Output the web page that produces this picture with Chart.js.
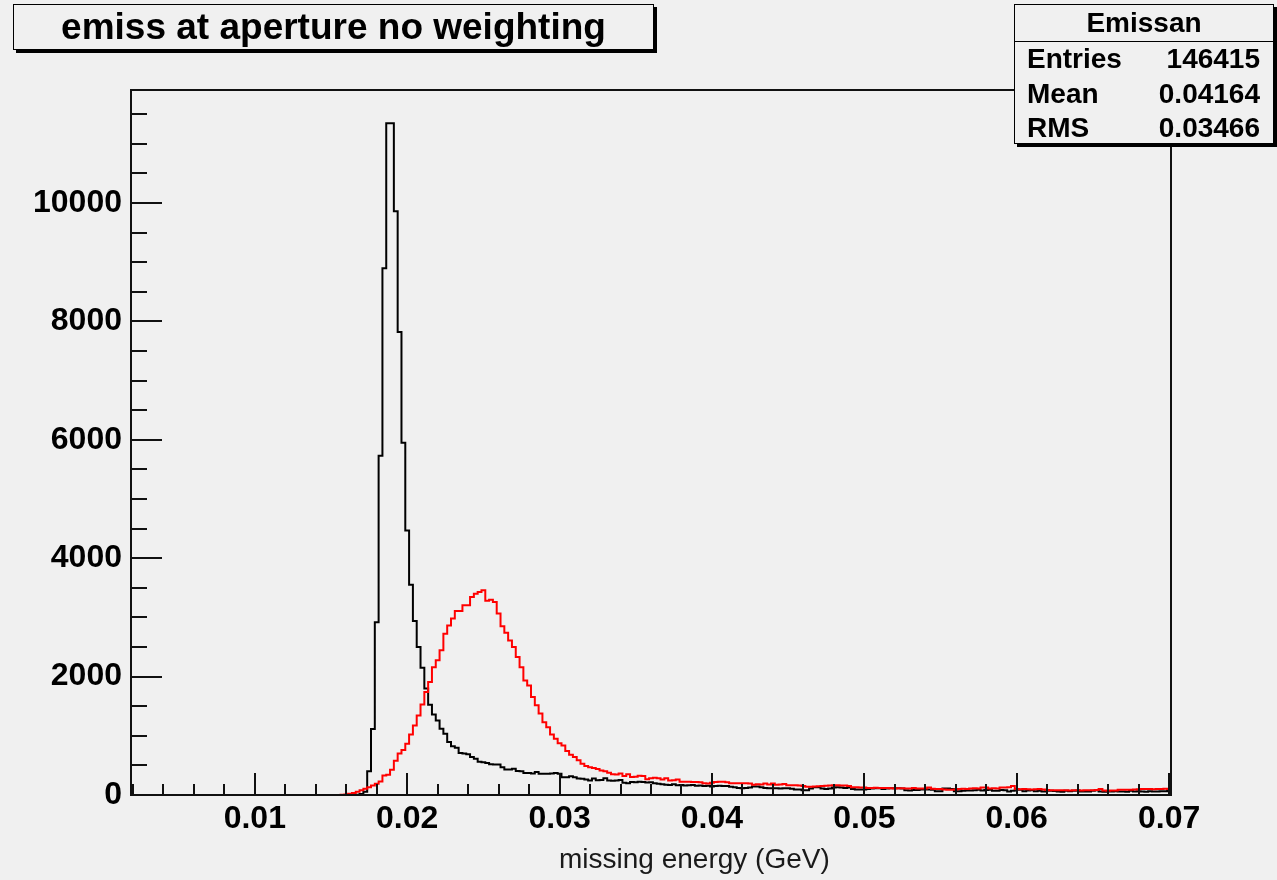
<!DOCTYPE html>
<html>
<head>
<meta charset="utf-8">
<script src="https://cdn.jsdelivr.net/npm/chart.js@4.4.1/dist/chart.umd.min.js"></script>
<style>
  html, body { margin: 0; padding: 0; background: #f0f0f0; }
  body { width: 1277px; height: 880px; position: relative; overflow: hidden; font-family: "Liberation Sans", Arial, sans-serif; }
  #plot { position: absolute; left: 0; top: 0; }
  .box { position: absolute; background: #f0f0f0; border: 1px solid #000; box-shadow: 3px 3px 0 #000; box-sizing: border-box; }
  #title { left: 13px; top: 4px; width: 641px; height: 46px; font-weight: bold; font-size: 37px; line-height: 44px; text-align: center; }
  #stats { left: 1014px; top: 4px; width: 260px; height: 140px; font-weight: bold; font-size: 28px; overflow: hidden; }
  #stats .head { height: 36px; line-height: 36px; text-align: center; border-bottom: 1px solid #000; }
  #stats .row { display: flex; justify-content: space-between; height: 34.5px; line-height: 34px; padding: 0 13px 0 12px; }
  #xtitle { position: absolute; left: 559px; top: 845px; font-size: 28px; line-height: 28px; color: #1a1a1a; white-space: nowrap; }
</style>
</head>
<body>
<canvas id="plot" width="1277" height="880"></canvas>
<div id="title" class="box">emiss at aperture no weighting</div>
<div id="stats" class="box">
  <div class="head">Emissan</div>
  <div class="row"><span>Entries</span><span>146415</span></div>
  <div class="row"><span>Mean</span><span>0.04164</span></div>
  <div class="row"><span>RMS</span><span>0.03466</span></div>
</div>
<div id="xtitle">missing energy (GeV)</div>
<script>
// histogram binning (low edge of first bin, bin width)
const BIN_LO = 0.001875;
const BIN_W = 0.00025;
const X_MIN = 0.001875;
const X_MAX = 0.070125;
const Y_MAX = 11910;

const X_TICKS = [0.01, 0.02, 0.03, 0.04, 0.05, 0.06, 0.07];
const X_TICK_LABELS = ['0.01', '0.02', '0.03', '0.04', '0.05', '0.06', '0.07'];
const Y_TICKS = [0, 2000, 4000, 6000, 8000, 10000];
const Y_TICK_LABELS = ['0', '2000', '4000', '6000', '8000', '10000'];

// black histogram, counts per bin
const countsBlack = [
  0, 0, 0, 0, 0, 0, 0, 0, 0, 0,
  0, 0, 0, 0, 0, 0, 0, 0, 0, 0,
  0, 0, 0, 0, 0, 0, 0, 0, 0, 0,
  0, 0, 0, 0, 0, 0, 0, 0, 0, 0,
  0, 0, 0, 0, 0, 0, 0, 0, 0, 0,
  0, 0, 0, 0, 0, 0, 0, 0, 2, 5,
  15, 55, 400, 1115, 2920, 5730, 8900, 11350, 11350, 9860,
  7820, 5950, 4470, 3550, 2940, 2500, 2150, 1800, 1525, 1360,
  1260, 1120, 1035, 895, 825, 800, 710, 700, 690, 640,
  612, 560, 555, 540, 520, 515, 515, 470, 430, 430,
  445, 405, 400, 370, 370, 365, 390, 360, 358, 360,
  365, 370, 360, 300, 300, 315, 300, 280, 275, 260,
  245, 280, 250, 255, 285, 245, 240, 245, 255, 205,
  200, 220, 215, 225, 220, 210, 215, 200, 190, 180,
  175, 170, 180, 165, 170, 160, 165, 170, 155, 160,
  150, 155, 145, 150, 155, 150, 150, 140, 130, 120,
  115, 118, 125, 145, 145, 130, 120, 115, 115, 115,
  110, 115, 112, 105, 95, 95, 80, 80, 110, 130,
  130, 110, 100, 110, 125, 130, 125, 120, 125, 100,
  95, 93, 93, 100, 110, 115, 115, 100, 110, 115,
  112, 113, 110, 80, 78, 85, 85, 95, 93, 92,
  90, 65, 65, 110, 110, 100, 65, 65, 70, 76,
  76, 80, 90, 75, 85, 90, 70, 72, 85, 80,
  60, 70, 88, 90, 65, 75, 80, 65, 70, 60,
  75, 72, 68, 60, 55, 70, 62, 70, 75, 60,
  58, 60, 70, 80, 60, 55, 65, 60, 62, 60,
  60, 55, 70, 60, 62, 60, 55, 62, 58, 60,
  62, 65, 70
];

// red histogram, counts per bin
const countsRed = [
  0, 0, 0, 0, 0, 0, 0, 0, 0, 0,
  0, 0, 0, 0, 0, 0, 0, 0, 0, 0,
  0, 0, 0, 0, 0, 0, 0, 0, 0, 0,
  0, 0, 0, 0, 0, 0, 0, 0, 0, 0,
  0, 0, 0, 0, 0, 0, 0, 0, 0, 0,
  0, 0, 0, 0, 0, 3, 8, 20, 35, 55,
  80, 105, 130, 160, 190, 230, 330, 340, 425, 580,
  700, 760, 865, 1020, 1175, 1345, 1530, 1740, 1910, 2160,
  2275, 2445, 2725, 2865, 2980, 3110, 3110, 3205, 3205, 3345,
  3400, 3430, 3460, 3280, 3300, 3260, 3065, 2850, 2740, 2610,
  2500, 2330, 2160, 1935, 1850, 1655, 1515, 1375, 1230, 1145,
  1020, 950, 875, 835, 745, 680, 640, 585, 530, 490,
  470, 455, 440, 415, 400, 375, 350, 345, 365, 320,
  350, 305, 310, 325, 320, 265, 285, 290, 285, 260,
  285, 245, 250, 260, 225, 225, 222, 218, 220, 215,
  200, 195, 205, 220, 225, 225, 215, 200, 200, 198,
  200, 198, 195, 175, 180, 178, 195, 178, 195, 172,
  178, 185, 165, 165, 163, 162, 150, 140, 140, 142,
  148, 150, 155, 160, 165, 165, 162, 160, 150, 132,
  130, 128, 125, 120, 120, 122, 120, 118, 118, 112,
  110, 112, 112, 110, 108, 120, 108, 110, 108, 125,
  105, 100, 100, 95, 90, 90, 92, 100, 104, 100,
  110, 112, 110, 125, 128, 110, 112, 108, 125, 128,
  130, 150, 100, 98, 100, 96, 95, 98, 100, 95,
  85, 80, 82, 80, 82, 80, 78, 82, 80, 78,
  80, 82, 80, 85, 100, 75, 72, 75, 76, 88,
  90, 88, 90, 95, 98, 100, 102, 100, 98, 100,
  102, 104, 100
];

// one point per bin low edge, plus the upper edge of the last bin
function toSteps(counts) {
  const pts = counts.map((c, i) => ({ x: BIN_LO + i * BIN_W, y: c }));
  pts.push({ x: BIN_LO + counts.length * BIN_W, y: counts[counts.length - 1] });
  return pts;
}

// ROOT style frame with ticks pointing inwards
const rootFrame = {
  id: 'rootFrame',
  afterDatasetsDraw(chart) {
    const { ctx, chartArea: a, scales } = chart;
    const xs = scales.x, ys = scales.y;
    ctx.save();
    ctx.strokeStyle = '#111';
    ctx.lineWidth = 2;
    ctx.beginPath();
    for (let n = 1; n * 0.002 <= X_MAX; n++) {
      const px = Math.round(xs.getPixelForValue(n * 0.002));
      const len = n % 5 === 0 ? 22 : 11;
      ctx.moveTo(px, a.bottom);
      ctx.lineTo(px, a.bottom - len);
    }
    for (let n = 0; n * 500 <= Y_MAX; n++) {
      const py = Math.round(ys.getPixelForValue(n * 500));
      const len = n % 4 === 0 ? 31 : 16;
      ctx.moveTo(a.left, py);
      ctx.lineTo(a.left + len, py);
    }
    ctx.stroke();
    ctx.strokeRect(a.left, a.top, a.right - a.left, a.bottom - a.top);
    ctx.restore();
  }
};

Chart.defaults.font.family = '"Liberation Sans", Arial, sans-serif';

new Chart(document.getElementById('plot'), {
  type: 'line',
  data: {
    datasets: [
      {
        label: 'red',
        data: toSteps(countsRed),
        borderColor: '#ff0000',
        borderWidth: 2,
        stepped: true,
        pointRadius: 0,
        fill: false,
        clip: 4
      },
      {
        label: 'black',
        data: toSteps(countsBlack),
        borderColor: '#000000',
        borderWidth: 2,
        stepped: true,
        pointRadius: 0,
        fill: false,
        clip: 4
      }
    ]
  },
  options: {
    responsive: false,
    animation: false,
    devicePixelRatio: 1,
    layout: { padding: { top: 90, right: 106, bottom: 0, left: 0 } },
    plugins: { legend: { display: false }, tooltip: { enabled: false } },
    scales: {
      x: {
        type: 'linear',
        min: X_MIN,
        max: X_MAX,
        afterBuildTicks: s => { s.ticks = X_TICKS.map(v => ({ value: v })); },
        afterFit: s => { s.height = 85; },
        grid: { display: false, drawTicks: false },
        border: { display: false },
        ticks: {
          autoSkip: false,
          maxRotation: 0,
          padding: 5,
          color: '#000',
          font: { size: 32, weight: 'bold' },
          callback: (v, i) => X_TICK_LABELS[i]
        }
      },
      y: {
        type: 'linear',
        min: 0,
        max: Y_MAX,
        afterBuildTicks: s => { s.ticks = Y_TICKS.map(v => ({ value: v })); },
        afterFit: s => { s.width = 131; },
        grid: { display: false, drawTicks: false },
        border: { display: false },
        ticks: {
          padding: 9,
          color: '#000',
          font: { size: 32, weight: 'bold' },
          callback: (v, i) => Y_TICK_LABELS[i]
        }
      }
    }
  },
  plugins: [rootFrame]
});
</script>
</body>
</html>
